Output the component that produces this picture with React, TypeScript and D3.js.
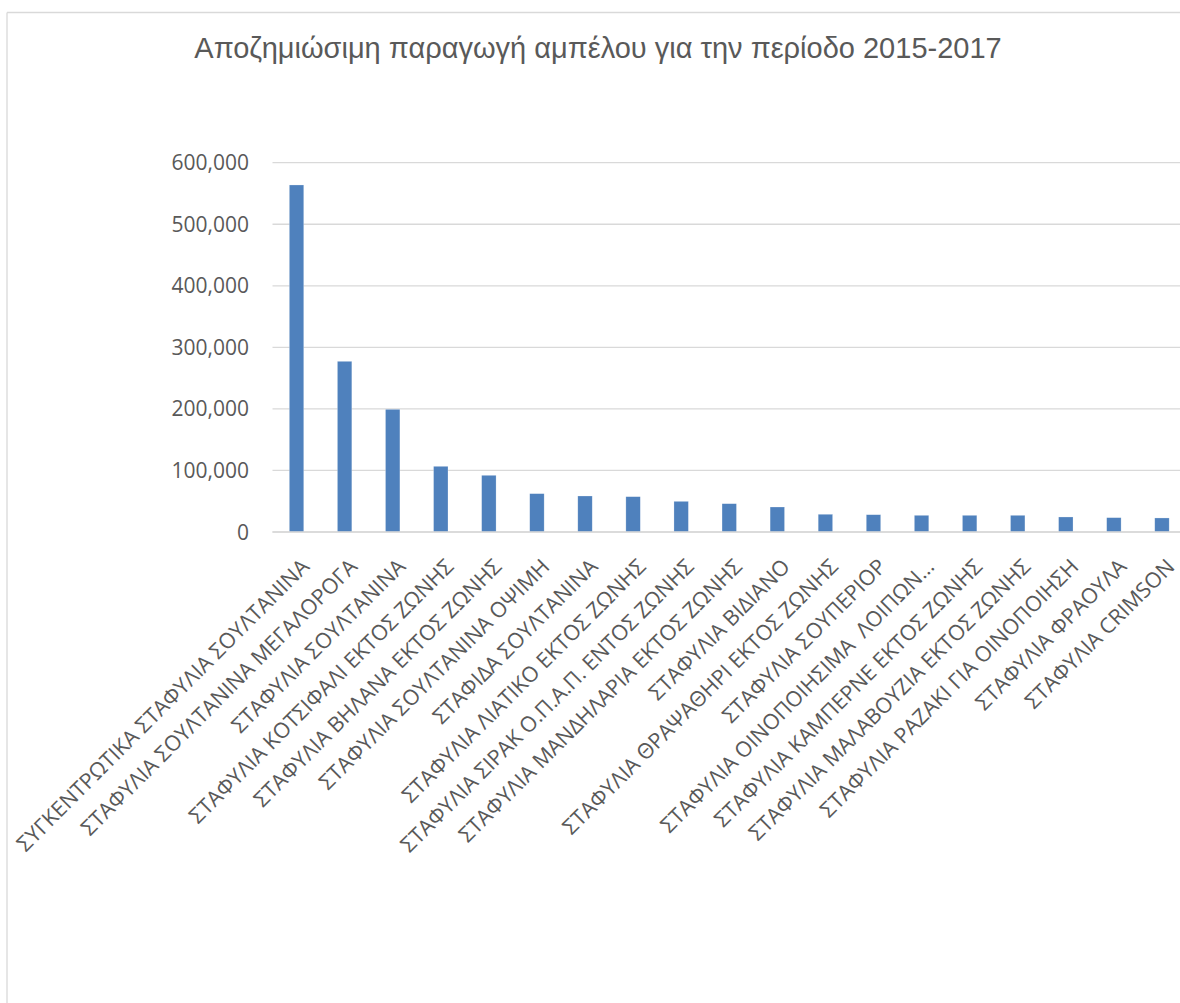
import React from "react";
import * as d3 from "d3";

const categories: string[] = [
  "ΣΥΓΚΕΝΤΡΩΤΙΚΑ ΣΤΑΦΥΛΙΑ ΣΟΥΛΤΑΝΙΝΑ",
  "ΣΤΑΦΥΛΙΑ ΣΟΥΛΤΑΝΙΝΑ ΜΕΓΑΛΟΡΟΓΑ",
  "ΣΤΑΦΥΛΙΑ ΣΟΥΛΤΑΝΙΝΑ",
  "ΣΤΑΦΥΛΙΑ ΚΟΤΣΙΦΑΛΙ ΕΚΤΟΣ ΖΩΝΗΣ",
  "ΣΤΑΦΥΛΙΑ ΒΗΛΑΝΑ ΕΚΤΟΣ ΖΩΝΗΣ",
  "ΣΤΑΦΥΛΙΑ ΣΟΥΛΤΑΝΙΝΑ ΟΨΙΜΗ",
  "ΣΤΑΦΙΔΑ ΣΟΥΛΤΑΝΙΝΑ",
  "ΣΤΑΦΥΛΙΑ ΛΙΑΤΙΚΟ ΕΚΤΟΣ ΖΩΝΗΣ",
  "ΣΤΑΦΥΛΙΑ ΣΙΡΑΚ Ο.Π.Α.Π. ΕΝΤΟΣ ΖΩΝΗΣ",
  "ΣΤΑΦΥΛΙΑ ΜΑΝΔΗΛΑΡΙΑ ΕΚΤΟΣ ΖΩΝΗΣ",
  "ΣΤΑΦΥΛΙΑ ΒΙΔΙΑΝΟ",
  "ΣΤΑΦΥΛΙΑ ΘΡΑΨΑΘΗΡΙ ΕΚΤΟΣ ΖΩΝΗΣ",
  "ΣΤΑΦΥΛΙΑ ΣΟΥΠΕΡΙΟΡ",
  "ΣΤΑΦΥΛΙΑ ΟΙΝΟΠΟΙΗΣΙΜΑ  ΛΟΙΠΩΝ…",
  "ΣΤΑΦΥΛΙΑ ΚΑΜΠΕΡΝΕ ΕΚΤΟΣ ΖΩΝΗΣ",
  "ΣΤΑΦΥΛΙΑ ΜΑΛΑΒΟΥΖΙΑ ΕΚΤΟΣ ΖΩΝΗΣ",
  "ΣΤΑΦΥΛΙΑ ΡΑΖΑΚΙ ΓΙΑ ΟΙΝΟΠΟΙΗΣΗ",
  "ΣΤΑΦΥΛΙΑ ΦΡΑΟΥΛΑ",
  "ΣΤΑΦΥΛΙΑ CRIMSON",
];

const values: number[] = [
  563800, 277300, 199300, 106700, 92100, 62300, 58500, 57400, 49800, 46000,
  40600, 28800, 28100, 27100, 27100, 27100, 24400, 23300, 22800,
];

const yTicks: number[] = [0, 100000, 200000, 300000, 400000, 500000, 600000];

const title = "Αποζημιώσιμη παραγωγή αμπέλου για την περίοδο 2015-2017";

const W = 1180;
const H = 1003;
const plotLeft = 272.5;
const plotRight = 1186;
const plotTop = 162.7;
const plotBottom = 532;

export default function App() {
  const x = d3
    .scaleBand<string>()
    .domain(categories)
    .range([plotLeft, plotRight])
    .paddingInner(0.7)
    .paddingOuter(0.35);
  const y = d3.scaleLinear().domain([0, 600000]).range([plotBottom, plotTop]);
  const fmt = d3.format(",");
  const textColor = "#595959";
  const gridColor = "#d9d9d9";

  return (
    <svg
      width={W}
      height={H}
      style={{ position: "absolute", left: 0, top: 0, background: "#fff" }}
      xmlns="http://www.w3.org/2000/svg"
    >
      <rect x={0} y={0} width={W} height={H} fill="#ffffff" />
      <line x1={7} x2={7} y1={12.5} y2={H + 5} stroke={gridColor} strokeWidth={1.3} />
      <line x1={7} x2={W + 5} y1={12.5} y2={12.5} stroke={gridColor} strokeWidth={1.3} />
      <text
        x={598}
        y={58}
        textAnchor="middle"
        fontFamily="'Liberation Sans', Arial, sans-serif"
        fontSize={29}
        fill={textColor}
      >
        {title}
      </text>
      <g>
        {yTicks.map((t) => (
          <g key={t}>
            <line
              x1={plotLeft}
              x2={plotRight}
              y1={y(t)}
              y2={y(t)}
              stroke={gridColor}
              strokeWidth={1.3}
            />
            <text
              x={249}
              y={y(t)}
              dy="0.36em"
              textAnchor="end"
              fontFamily="'Open Sans', sans-serif"
              fontSize={21}
              fill={textColor}
            >
              {fmt(t)}
            </text>
          </g>
        ))}
      </g>
      <g>
        {categories.map((c, i) => (
          <rect
            key={c}
            x={x(c)}
            y={y(values[i])}
            width={x.bandwidth()}
            height={plotBottom - y(values[i])}
            fill="#4f81bd"
            stroke="#ffffff"
            strokeOpacity={0.4}
            strokeWidth={0.6}
          />
        ))}
      </g>
      <line
        x1={plotLeft}
        x2={plotRight}
        y1={plotBottom}
        y2={plotBottom}
        stroke={gridColor}
        strokeWidth={1.3}
      />
      <g>
        {categories.map((c) => {
          const cx = (x(c) as number) + x.bandwidth() / 2;
          return (
            <text
              key={c}
              transform={`translate(${cx + 14},${plotBottom + 36}) rotate(-45)`}
              textAnchor="end"
              fontFamily="'Open Sans', sans-serif"
              fontSize={21.4}
              fill={textColor}
              style={{ whiteSpace: "pre" }}
            >
              {c}
            </text>
          );
        })}
      </g>
    </svg>
  );
}
